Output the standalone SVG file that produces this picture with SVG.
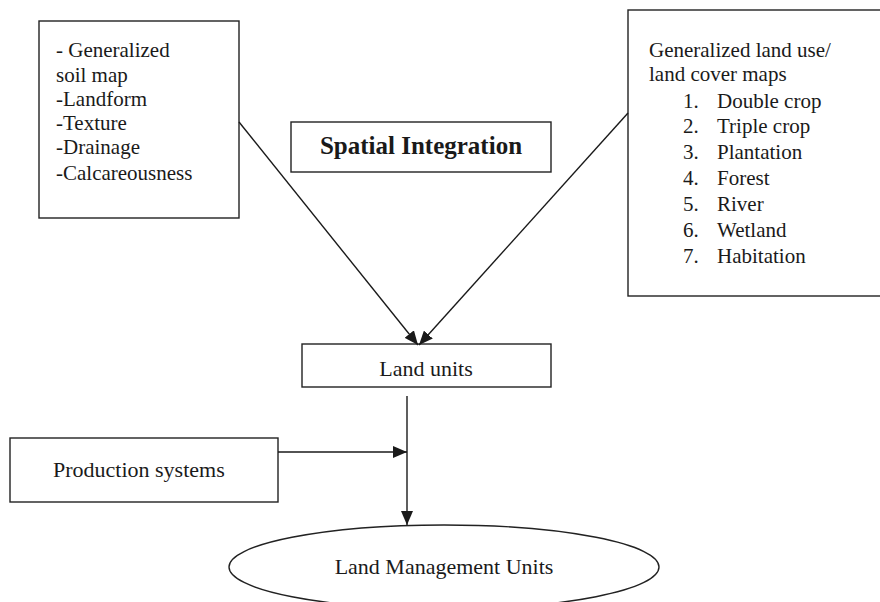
<svg xmlns="http://www.w3.org/2000/svg" width="880" height="602" viewBox="0 0 880 602">
<style>
.box{fill:#fff;stroke:#222;stroke-width:1.4}
.t{font-family:"Liberation Serif","Times New Roman",serif;font-size:21px;fill:#1a1a1a}
.t22{font-family:"Liberation Serif","Times New Roman",serif;font-size:22px;fill:#1a1a1a}
.b{font-family:"Liberation Serif","Times New Roman",serif;font-size:25px;font-weight:bold;fill:#1a1a1a}
.c{stroke:#1a1a1a;stroke-width:1.4;fill:none}
</style>
<defs>
<marker id="ah" markerUnits="userSpaceOnUse" markerWidth="14" markerHeight="12" refX="14" refY="6" orient="auto">
<path d="M0,0 L14,6 L0,12 z" fill="#1a1a1a"/>
</marker>
</defs>
<rect width="880" height="602" fill="#fff"/>
<g id="soil">
<rect class="box" x="39" y="21" width="200" height="197"/>
<text class="t" x="56" y="57">- Generalized</text>
<text class="t" x="56" y="82">soil map</text>
<text class="t" x="56" y="106">-Landform</text>
<text class="t" x="56" y="130">-Texture</text>
<text class="t" x="56" y="154">-Drainage</text>
<text class="t" x="56" y="180">-Calcareousness</text>
</g>
<g id="landuse">
<rect class="box" x="628" y="10" width="260" height="286"/>
<text class="t" x="649" y="57">Generalized land use/</text>
<text class="t" x="649" y="81">land cover maps</text>
<text class="t" x="683" y="108">1.</text><text class="t" x="717" y="108">Double crop</text>
<text class="t" x="683" y="133">2.</text><text class="t" x="717" y="133">Triple crop</text>
<text class="t" x="683" y="159">3.</text><text class="t" x="717" y="159">Plantation</text>
<text class="t" x="683" y="185">4.</text><text class="t" x="717" y="185">Forest</text>
<text class="t" x="683" y="211">5.</text><text class="t" x="717" y="211">River</text>
<text class="t" x="683" y="237">6.</text><text class="t" x="717" y="237">Wetland</text>
<text class="t" x="683" y="263">7.</text><text class="t" x="717" y="263">Habitation</text>
</g>
<g id="spatial">
<rect class="box" x="291" y="122" width="260" height="50"/>
<text class="b" x="421" y="154" text-anchor="middle">Spatial Integration</text>
</g>
<g id="landunits">
<rect class="box" x="302" y="344" width="249" height="43"/>
<text class="t22" x="426" y="376" text-anchor="middle">Land units</text>
</g>
<g id="production">
<rect class="box" x="10" y="438" width="268" height="64"/>
<text class="t22" x="53" y="477">Production systems</text>
</g>
<g id="lmu">
<ellipse class="box" cx="444" cy="567" rx="215" ry="42"/>
<text class="t22" x="444" y="574" text-anchor="middle">Land Management Units</text>
</g>
<g id="connectors">
<line class="c" x1="239" y1="122" x2="418" y2="345" marker-end="url(#ah)"/>
<line class="c" x1="628" y1="113" x2="419" y2="345" marker-end="url(#ah)"/>
<line class="c" x1="278" y1="452" x2="407" y2="452" marker-end="url(#ah)"/>
<line class="c" x1="407" y1="396" x2="407" y2="525" marker-end="url(#ah)"/>
</g>
</svg>
